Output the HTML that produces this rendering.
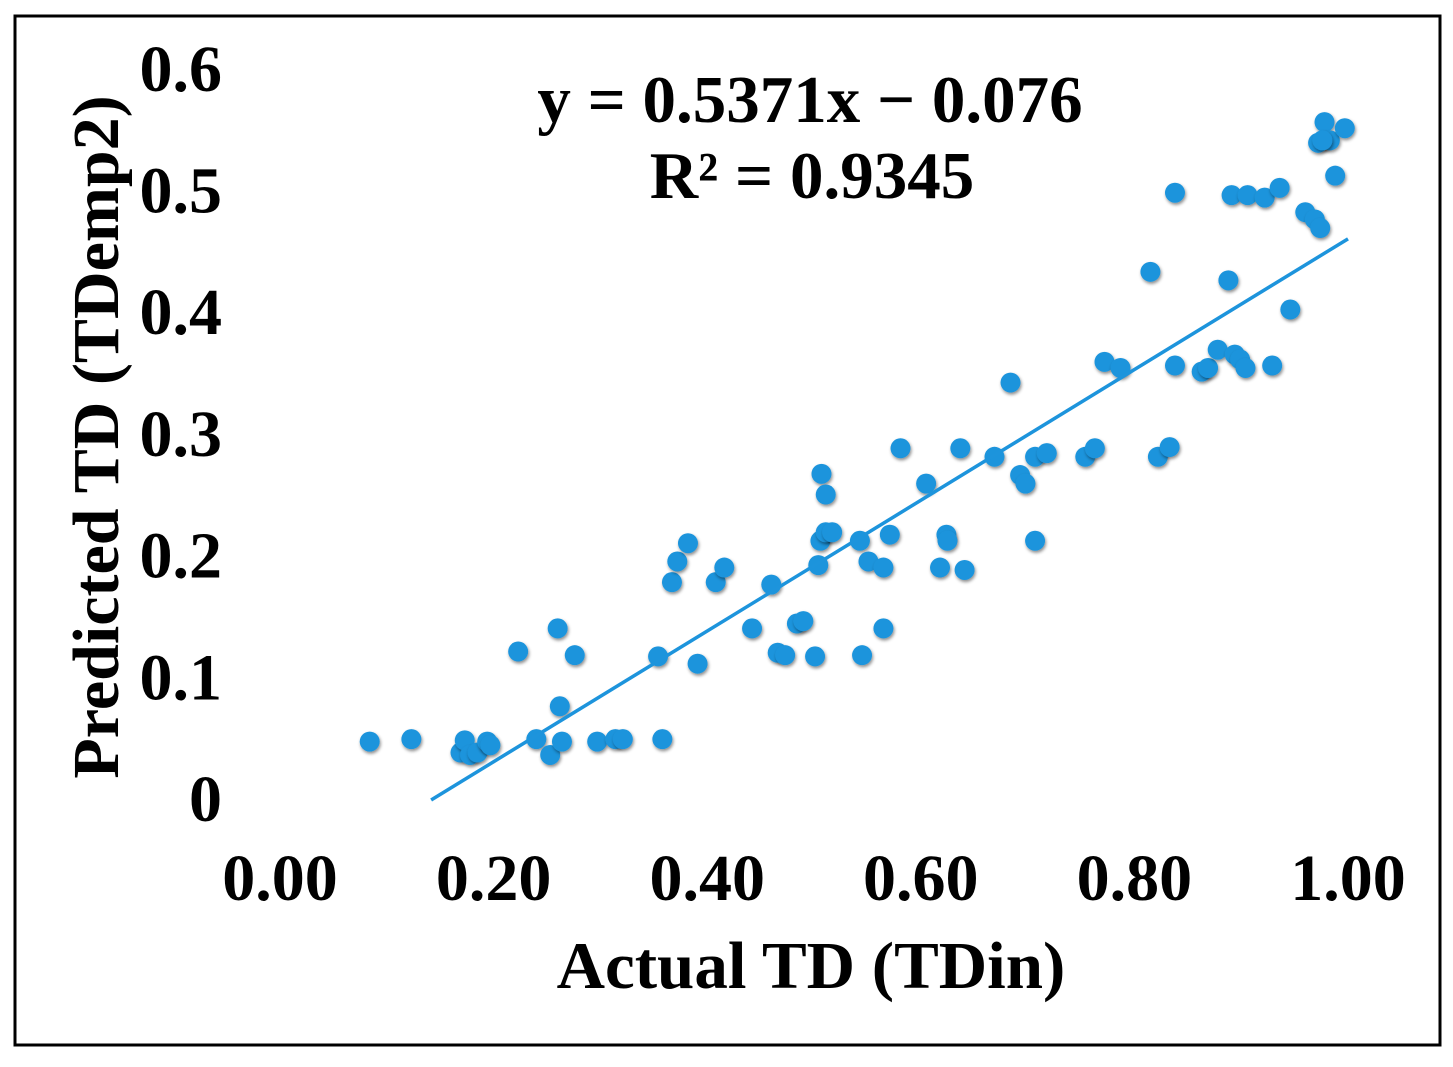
<!DOCTYPE html>
<html><head><meta charset="utf-8"><style>
html,body{margin:0;padding:0;background:#fff;}
svg text{font-family:"Liberation Serif",serif;font-weight:bold;fill:#000;}
</style></head><body>
<svg width="1453" height="1062" xmlns="http://www.w3.org/2000/svg">
<defs><filter id="sh" x="-50%" y="-50%" width="200%" height="200%"><feDropShadow dx="1" dy="2" stdDeviation="1.5" flood-color="#000" flood-opacity="0.45"/></filter></defs>
<rect x="15" y="16" width="1425" height="1029" fill="#fff" stroke="#000" stroke-width="3"/>
<g id="yt"></g>
<g id="xt"></g>
<g id="pts"></g>
<g id="tl"></g>
<text x="810" y="122" font-size="67" text-anchor="middle">y = 0.5371x − 0.076</text>
<text x="812" y="198" font-size="67" text-anchor="middle">R² = 0.9345</text>
<text x="811" y="988" font-size="67" text-anchor="middle">Actual TD (TDin)</text>
<text transform="translate(118,437) rotate(-90)" font-size="66" text-anchor="middle">Predicted TD (TDemp2)</text>
</svg>
<script>
const xs=[0.084,0.123,0.169,0.173,0.178,0.185,0.194,0.197,0.223,0.240,0.253,0.260,0.262,0.264,0.276,0.297,0.314,0.321,0.354,0.358,0.367,0.372,0.382,0.391,0.408,0.416,0.442,0.460,0.466,0.473,0.484,0.490,0.501,0.504,0.506,0.507,0.511,0.511,0.517,0.543,0.545,0.551,0.565,0.565,0.571,0.581,0.605,0.618,0.624,0.625,0.637,0.641,0.669,0.684,0.693,0.698,0.707,0.707,0.718,0.754,0.763,0.772,0.787,0.815,0.822,0.833,0.838,0.838,0.863,0.869,0.878,0.888,0.891,0.894,0.899,0.904,0.906,0.922,0.929,0.936,0.946,0.960,0.969,0.974,0.972,0.978,0.983,0.988,0.997,0.976];
const ys=[0.048,0.050,0.039,0.049,0.037,0.039,0.048,0.045,0.122,0.050,0.037,0.141,0.077,0.048,0.119,0.048,0.050,0.050,0.118,0.050,0.179,0.196,0.211,0.112,0.179,0.191,0.141,0.177,0.121,0.119,0.145,0.147,0.118,0.193,0.213,0.268,0.251,0.220,0.220,0.213,0.119,0.196,0.191,0.141,0.218,0.289,0.260,0.191,0.218,0.213,0.289,0.189,0.282,0.343,0.267,0.260,0.213,0.282,0.285,0.282,0.289,0.360,0.355,0.434,0.282,0.290,0.499,0.357,0.352,0.355,0.370,0.427,0.497,0.366,0.362,0.355,0.497,0.495,0.357,0.503,0.403,0.483,0.477,0.470,0.540,0.557,0.542,0.513,0.552,0.542];
const xTicks=["0.00","0.20","0.40","0.60","0.80","1.00"];
const xTickVals=[0,0.2,0.4,0.6,0.8,1.0];
const yTicks=["0","0.1","0.2","0.3","0.4","0.5","0.6"];
const yTickVals=[0,0.1,0.2,0.3,0.4,0.5,0.6];
const slope=0.5371, intercept=-0.076, fitStart=0.1415, fitEnd=1.0;
const NS="http://www.w3.org/2000/svg";
const X=v=>280+v*1068, Y=v=>800-v*1217;
const yt=document.getElementById('yt');
yTicks.forEach((t,i)=>{const e=document.createElementNS(NS,'text');


e.setAttribute('x',222);e.setAttribute('y',Y(yTickVals[i])+21);e.setAttribute('font-size','66');e.setAttribute('text-anchor','end');e.textContent=t;yt.appendChild(e);});
const xt=document.getElementById('xt');
xTicks.forEach((t,i)=>{const e=document.createElementNS(NS,'text');


e.setAttribute('x',X(xTickVals[i]));e.setAttribute('y',900);e.setAttribute('font-size','66');e.setAttribute('text-anchor','middle');e.textContent=t;xt.appendChild(e);});
const pts=document.getElementById('pts');
xs.forEach((x,i)=>{const c=document.createElementNS(NS,'circle');


c.setAttribute('cx',X(x));c.setAttribute('cy',Y(ys[i]));c.setAttribute('r',10);c.setAttribute('fill','#1d94dc');c.setAttribute('filter','url(#sh)');pts.appendChild(c);});
const l=document.createElementNS(NS,'line');


l.setAttribute('x1',X(fitStart));l.setAttribute('y1',Y(slope*fitStart+intercept));l.setAttribute('x2',X(fitEnd));l.setAttribute('y2',Y(slope*fitEnd+intercept));
l.setAttribute('stroke','#1d94dc');l.setAttribute('stroke-width','3.5');
document.getElementById('tl').appendChild(l);
</script>
</body></html>
